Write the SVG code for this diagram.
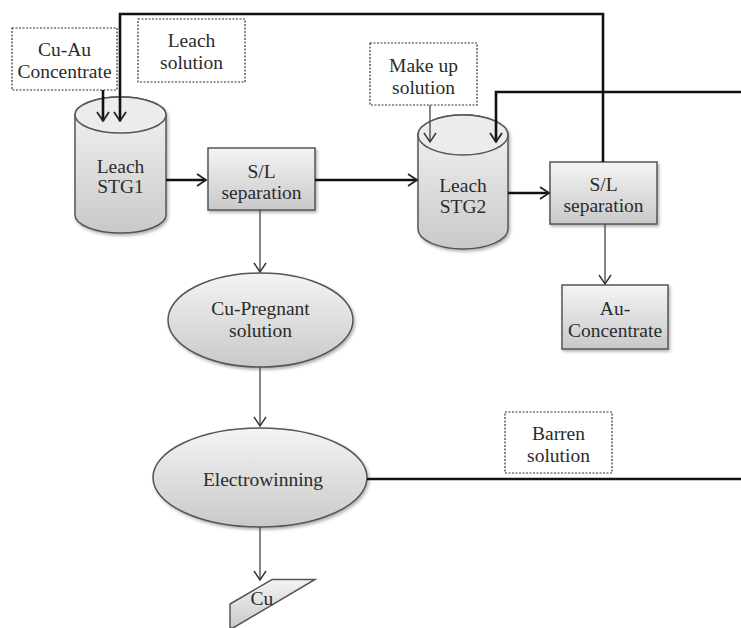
<svg xmlns="http://www.w3.org/2000/svg" width="741" height="628" viewBox="0 0 741 628">
<defs>
<linearGradient id="g" x1="0" y1="0" x2="0" y2="1">
<stop offset="0" stop-color="#f4f4f4"/>
<stop offset="1" stop-color="#c9c9c9"/>
</linearGradient>
<filter id="sh" x="-10%" y="-10%" width="125%" height="130%">
<feDropShadow dx="1.5" dy="2" stdDeviation="1.5" flood-color="#000" flood-opacity="0.3"/>
</filter>
<marker id="ah" markerUnits="userSpaceOnUse" markerWidth="14" markerHeight="14" refX="11" refY="7" orient="auto">
<path d="M2,1 L11,7 L2,13" fill="none" stroke="#222" stroke-width="1.8"/>
</marker>
<marker id="ahT" markerUnits="userSpaceOnUse" markerWidth="14" markerHeight="14" refX="11" refY="7" orient="auto">
<path d="M2,1 L11,7 L2,13" fill="none" stroke="#333" stroke-width="1.4"/>
</marker>
</defs>
<style>
text{font-family:"Liberation Serif","Times New Roman",serif;font-size:19.5px;fill:#2b2b2b;text-anchor:middle}
.dash{fill:#fff;stroke:#333;stroke-width:1.2;stroke-dasharray:2 1.5}
.proc{fill:url(#g);stroke:#555;stroke-width:1.5;filter:url(#sh)}
.thick{fill:none;stroke:#111;stroke-width:2.6}
.thin{fill:none;stroke:#444;stroke-width:1.3}
</style>
<rect width="741" height="628" fill="#fff"/>

<g id="cu-au-concentrate">
<rect class="dash" x="12" y="28" width="105" height="62"/>
<text x="64.5" y="56">Cu-Au</text>
<text x="64.5" y="78">Concentrate</text>
</g>

<g id="leach-solution">
<rect class="dash" x="138" y="19" width="107" height="63"/>
<text x="191.5" y="47">Leach</text>
<text x="191.5" y="69">solution</text>
</g>

<g id="make-up-solution">
<rect class="dash" x="370" y="43" width="107" height="62"/>
<text x="423.5" y="72">Make up</text>
<text x="423.5" y="94">solution</text>
</g>

<g id="barren-solution">
<rect class="dash" x="505" y="412" width="107" height="61"/>
<text x="558.5" y="440">Barren</text>
<text x="558.5" y="462">solution</text>
</g>

<g id="leach-stg1">
<path class="proc" d="M75,115 V215 A45.5,18 0 0 0 166,215 V115 A45.5,18 0 0 0 75,115 Z"/>
<ellipse cx="120.5" cy="115" rx="45.5" ry="18" fill="#ececec" stroke="#555" stroke-width="1.5"/>
<text x="120.5" y="173">Leach</text>
<text x="120.5" y="193">STG1</text>
</g>

<g id="sl-separation-1">
<rect class="proc" x="208" y="148" width="107" height="62"/>
<text x="261.5" y="178">S/L</text>
<text x="261.5" y="199">separation</text>
</g>

<g id="leach-stg2">
<path class="proc" d="M418,135 V229 A45,20 0 0 0 508,229 V135 A45,20 0 0 0 418,135 Z"/>
<ellipse cx="463" cy="135" rx="45" ry="20" fill="#ececec" stroke="#555" stroke-width="1.5"/>
<text x="463" y="192">Leach</text>
<text x="463" y="213">STG2</text>
</g>

<g id="sl-separation-2">
<rect class="proc" x="550" y="162" width="107" height="62"/>
<text x="603.5" y="191">S/L</text>
<text x="603.5" y="212">separation</text>
</g>

<g id="au-concentrate">
<rect class="proc" x="562" y="285" width="106" height="64"/>
<text x="615" y="315">Au-</text>
<text x="615" y="337">Concentrate</text>
</g>

<g id="cu-pregnant-solution">
<ellipse class="proc" cx="260.5" cy="320" rx="92.5" ry="47"/>
<text x="260.5" y="315">Cu-Pregnant</text>
<text x="260.5" y="337">solution</text>
</g>

<g id="electrowinning">
<ellipse class="proc" cx="260" cy="477.5" rx="107" ry="49.5"/>
<text x="263" y="486">Electrowinning</text>
</g>

<g id="cu">
<polygon points="230,604 272,579.5 315,579.5 233,628 230,628" fill="url(#g)" stroke="#555" stroke-width="1.5"/>
<text x="262" y="605">Cu</text>
</g>

<g id="connectors">
<path class="thick" d="M603,162 V14 H120 V121" marker-end="url(#ah)"/>
<path class="thick" d="M103,90 V121" stroke-width="2" marker-end="url(#ah)"/>
<path class="thick" d="M741,92 H496 V142" marker-end="url(#ah)"/>
<path class="thin" d="M430,105 V142" marker-end="url(#ahT)"/>
<path class="thick" d="M166,180 H206" marker-end="url(#ah)"/>
<path class="thick" d="M315,180 H417" marker-end="url(#ah)"/>
<path class="thick" d="M508,193 H549" marker-end="url(#ah)"/>
<path class="thin" d="M605,224 V284" marker-end="url(#ahT)"/>
<path class="thin" d="M260,210 V272" marker-end="url(#ahT)"/>
<path class="thin" d="M260,367 V426" marker-end="url(#ahT)"/>
<path class="thin" d="M260,527 V580" marker-end="url(#ahT)"/>
<path class="thick" d="M367,479 H741"/>
</g>
</svg>
